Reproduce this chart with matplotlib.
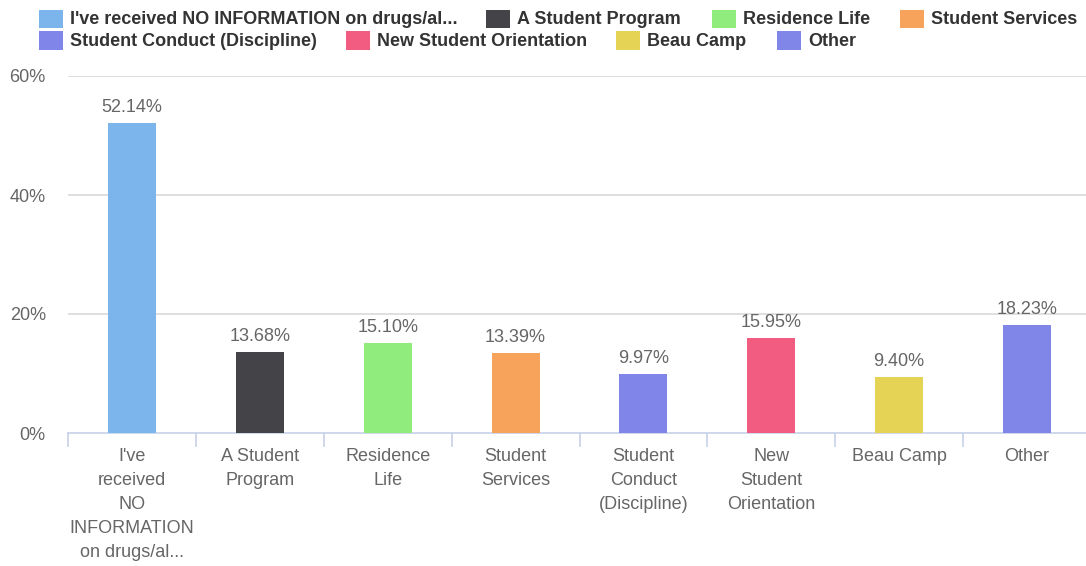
import matplotlib
matplotlib.use("Agg")
import matplotlib.pyplot as plt
from matplotlib.patches import Rectangle
import numpy as np

plt.rcParams['font.family'] = ['Liberation Sans', 'DejaVu Sans']

legend_names = ["I've received NO INFORMATION on drugs/al...", "A Student Program", "Residence Life",
                "Student Services", "Student Conduct (Discipline)", "New Student Orientation",
                "Beau Camp", "Other"]
tick_labels = ["I've\nreceived\nNO\nINFORMATION\non drugs/al...", "A Student\nProgram", "Residence\nLife",
               "Student\nServices", "Student\nConduct\n(Discipline)", "New\nStudent\nOrientation",
               "Beau Camp", "Other"]
values = [52.14, 13.68, 15.10, 13.39, 9.97, 15.95, 9.40, 18.23]
colors = ["#7cb5ec", "#434348", "#90ed7d", "#f7a35c", "#8085e9", "#f15c80", "#e4d354", "#8085e8"]
y_ticks = [0, 20, 40, 60]

W, H = 1086, 566
fig = plt.figure(figsize=(W / 100, H / 100), dpi=100)
ax = fig.add_axes([68 / W, 1 - 433 / H, (1091 - 68) / W, (433 - 76) / H])

x = np.arange(len(values))
ax.bar(x, values, width=0.375, color=colors, zorder=3)
ax.set_xlim(-0.5, len(values) - 0.5)
ax.set_ylim(0, 60)

for xi, v in zip(x, values):
    ax.annotate(f"{v:.2f}%", (xi, v), xytext=(0, 5), textcoords="offset points",
                ha="center", va="bottom", fontsize=13, color="#666666")

ax.set_yticks(y_ticks)
ax.set_yticklabels([f"{t}%" for t in y_ticks], fontsize=13, color="#666666")
ax.tick_params(axis="y", length=0, pad=16)
for t in y_ticks[1:]:
    ax.axhline(t, color="#dcdcdc", lw=1.3, zorder=1)

ax.set_xticks(x)
ax.set_xticklabels(tick_labels, fontsize=13, color="#666666", linespacing=1.53)
ax.tick_params(axis="x", length=0, pad=11)
for b in np.arange(-0.5, len(values), 1.0):
    ax.plot([b, b], [0, -0.037], transform=ax.get_xaxis_transform(), color="#ccd6eb",
            lw=1.3, clip_on=False, zorder=2)

for s in ["top", "right", "left"]:
    ax.spines[s].set_visible(False)
ax.spines["bottom"].set_color("#ccd6eb")
ax.spines["bottom"].set_linewidth(1.3)

# legend (manual flow layout like the original)
marker_x = [39, 486, 712, 900, 39, 346, 616, 777]
row_y = [19, 40.5]
for i, (name, c) in enumerate(zip(legend_names, colors)):
    r = 0 if i < 4 else 1
    mx = marker_x[i]
    yc = row_y[r]
    fig.patches.append(Rectangle((mx / W, 1 - (yc + 9) / H), 24 / W, 18 / H,
                                 transform=fig.transFigure, facecolor=c, edgecolor="none"))
    fig.text((mx + 31) / W, 1 - (yc + 1) / H, name, fontsize=13, fontweight="bold",
             color="#333333", ha="left", va="center")

fig.savefig("out.png", dpi=100, facecolor="white")
